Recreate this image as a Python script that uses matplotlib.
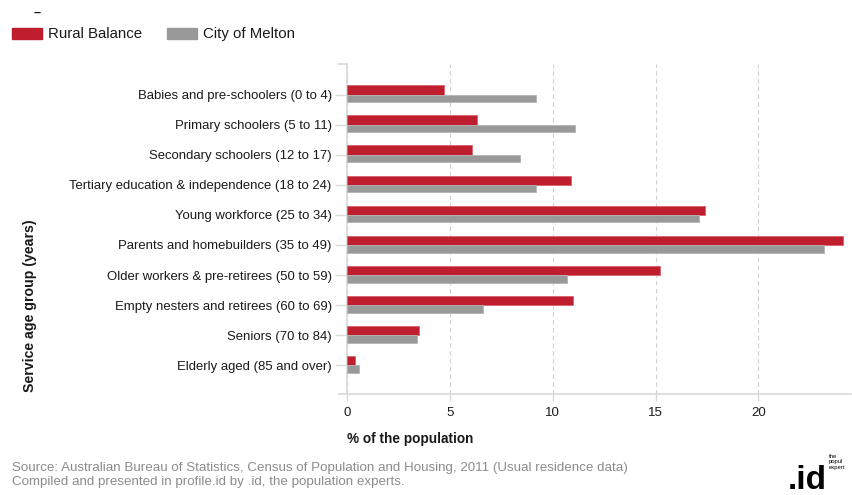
import matplotlib.pyplot as plt
from matplotlib.patches import Rectangle
import numpy as np

plt.rcParams['font.family'] = ['Liberation Sans', 'DejaVu Sans']

categories = [
    "Babies and pre-schoolers (0 to 4)",
    "Primary schoolers (5 to 11)",
    "Secondary schoolers (12 to 17)",
    "Tertiary education & independence (18 to 24)",
    "Young workforce (25 to 34)",
    "Parents and homebuilders (35 to 49)",
    "Older workers & pre-retirees (50 to 59)",
    "Empty nesters and retirees (60 to 69)",
    "Seniors (70 to 84)",
    "Elderly aged (85 and over)",
]
rural_balance = [4.7, 6.3, 6.1, 10.9, 17.4, 24.1, 15.2, 11.0, 3.5, 0.4]
city_of_melton = [9.2, 11.1, 8.4, 9.2, 17.1, 23.2, 10.7, 6.6, 3.4, 0.6]
x_ticks = [0, 5, 10, 15, 20]

RED = "#BE1E2D"
GREY = "#999999"
AXIS = "#D9D9D9"
TEXT = "#1a1a1a"

fig = plt.figure(figsize=(8.52, 4.95), dpi=100)
W, H = 852, 495
ax = fig.add_axes([347 / W, 1 - 393.5 / H, (851 - 347) / W, (393.5 - 64) / H])

y = np.arange(len(categories))
ax.barh(y - 0.155, rural_balance, height=0.31, color=RED,
        edgecolor="#d9646e", linewidth=0.6, zorder=3)
ax.barh(y + 0.125, city_of_melton, height=0.25, color=GREY,
        edgecolor="#b5b5b5", linewidth=0.6, zorder=3)

ax.set_xlim(0, 24.5)
ax.set_ylim(9.94, -1.02)
ax.set_yticks(y)
ax.set_yticklabels(categories, fontsize=9.45, color=TEXT)
ax.set_xticks(x_ticks)
ax.set_xticklabels([str(t) for t in x_ticks], fontsize=9.5, color=TEXT)
ax.tick_params(axis="y", length=9, width=1, color=AXIS, pad=2)
ax.tick_params(axis="x", length=5, width=1, color=AXIS, pad=5)

ax.grid(axis="x", linestyle=(0, (4, 3)), color="#D0D0D0", linewidth=0.8, zorder=0)
for s in ["top", "right"]:
    ax.spines[s].set_visible(False)
for s in ["left", "bottom"]:
    ax.spines[s].set_color(AXIS)
    ax.spines[s].set_linewidth(1.2)
ax.spines["bottom"].set_bounds(-0.4, 24.5)
ax.spines["bottom"].set_clip_on(False)

# small cap at the top of the category axis
ax.plot([-0.45, 0], [-1.02, -1.02], color=AXIS, lw=1.2, clip_on=False)

ax.set_xlabel("% of the population", fontsize=9.8, fontweight="bold",
              color=TEXT, loc="left", labelpad=9)
fig.text(30 / W, 1 - 306 / H, "Service age group (years)", rotation=90,
         fontsize=10.2, fontweight="bold", color=TEXT, ha="center", va="center")

# legend
fig.text(37 / W, 1 - 13 / H, "–", fontsize=9, fontweight="bold", color=TEXT,
         ha="center", va="center")
fig.patches.append(Rectangle((12 / W, 1 - 39 / H), 30 / W, 11 / H,
                             transform=fig.transFigure, color=RED))
fig.text(48 / W, 1 - 34 / H, "Rural Balance", fontsize=10.8, color=TEXT, va="center")
fig.patches.append(Rectangle((167 / W, 1 - 39 / H), 30 / W, 11 / H,
                             transform=fig.transFigure, color=GREY))
fig.text(203 / W, 1 - 34 / H, "City of Melton", fontsize=10.8, color=TEXT, va="center")

# source note
fig.text(12 / W, 1 - 468 / H,
         "Source: Australian Bureau of Statistics, Census of Population and Housing, 2011 (Usual residence data)",
         fontsize=9.6, color="#8c8c8c", va="center")
fig.text(12 / W, 1 - 482 / H,
         "Compiled and presented in profile.id by .id, the population experts.",
         fontsize=9.6, color="#8c8c8c", va="center")

# logo
fig.text(788 / W, 1 - 489 / H, ".id", fontsize=24, fontweight="bold",
         color="black", va="baseline", ha="left")
fig.text(829 / W, 1 - 454 / H, "the\npopul\nexpert", fontsize=4.2,
         color="black", va="top", ha="left", linespacing=1.1)

fig.savefig("out.png", dpi=100)
